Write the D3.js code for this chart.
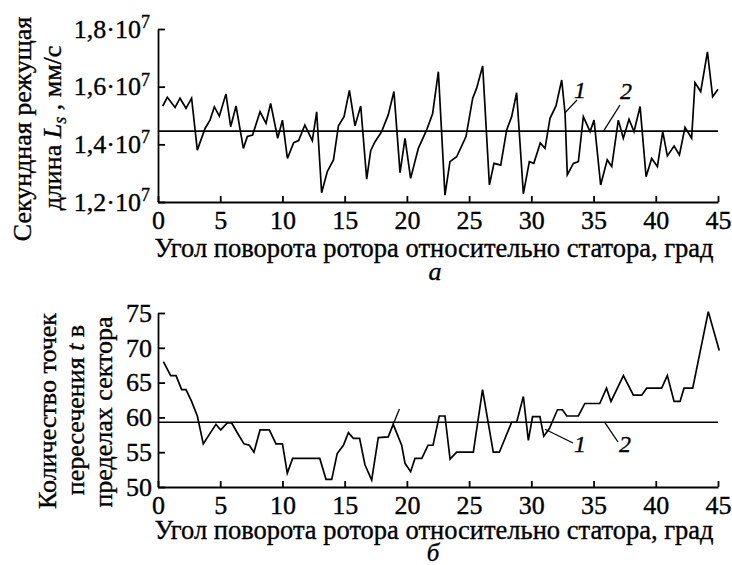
<!DOCTYPE html>
<html>
<head>
<meta charset="utf-8">
<script src="https://cdn.jsdelivr.net/npm/d3@7"></script>
<style>
  body { margin: 0; background: #fff; }
  svg text { font-family: "Liberation Serif", "DejaVu Serif", serif !important; fill: #000; stroke: #000; stroke-width: 0.35px; }
</style>
</head>
<body>
<svg id="chart" width="732" height="565"></svg>
<script>
// (a) seconds cutting length, 10^7 mm/s
const angleA = [0.38, 0.75, 1.37, 1.77, 2.25, 2.7, 3.16, 3.78, 4.18, 4.53, 4.93, 5.46, 5.84, 6.27, 6.86, 7.18, 7.6, 8.2, 8.68, 9.05,
  9.62, 10.0, 10.4, 10.9, 11.3, 11.8, 12.4, 12.75, 13.15, 13.6, 14.1, 14.5, 14.95, 15.38, 15.83, 16.29, 16.77, 17.09, 17.44, 17.97,
  18.5, 18.96, 19.45, 19.85, 20.3, 20.92, 21.59, 22.07, 22.53, 23.06, 23.46, 24.0, 24.75, 25.29, 25.6, 26.09, 26.63, 27.0, 27.54, 28.02,
  28.42, 28.82, 29.36, 29.84, 30.2, 30.72, 31.1, 31.5, 31.98, 32.44, 32.71, 32.89, 33.38, 33.78, 34.18, 34.72, 35.04, 35.57, 36.1, 36.46,
  36.99, 37.39, 37.85, 38.25, 38.74, 39.22, 39.67, 40.13, 40.56, 40.93, 41.47, 41.9, 42.35, 42.88, 43.15, 43.61, 44.15, 44.57, 45.0]
const lengthA = [1.533, 1.563, 1.528, 1.56, 1.525, 1.56, 1.38, 1.455, 1.484, 1.53, 1.498, 1.575, 1.461, 1.533, 1.386, 1.427, 1.432, 1.513, 1.473, 1.542,
  1.421, 1.484, 1.351, 1.406, 1.413, 1.467, 1.413, 1.513, 1.232, 1.305, 1.346, 1.464, 1.496, 1.587, 1.464, 1.533, 1.279, 1.378, 1.409, 1.444,
  1.502, 1.583, 1.302, 1.421, 1.282, 1.386, 1.45, 1.507, 1.652, 1.224, 1.34, 1.357, 1.427, 1.56, 1.594, 1.672, 1.259, 1.334, 1.328, 1.45,
  1.496, 1.579, 1.228, 1.34, 1.334, 1.405, 1.386, 1.49, 1.533, 1.623, 1.508, 1.294, 1.334, 1.34, 1.496, 1.444, 1.484, 1.259, 1.346, 1.323,
  1.484, 1.421, 1.487, 1.444, 1.531, 1.288, 1.351, 1.323, 1.444, 1.36, 1.394, 1.363, 1.459, 1.421, 1.614, 1.583, 1.721, 1.565, 1.591]
const meanA = 1.446

// (б) number of intersection points in sector
const angleB = [0.43, 1.02, 1.45, 1.9, 2.25, 2.7, 3.16, 3.64, 4.18, 4.66, 5.04, 5.57, 5.92, 6.37, 6.91, 7.34, 7.71, 8.2, 8.95, 9.48,
  10.0, 10.39, 10.82, 13.0, 13.5, 13.96, 14.4, 14.9, 15.3, 15.7, 16.2, 16.63, 17.17, 17.7, 18.5, 18.9, 19.58, 19.85, 20.3, 20.65,
  21.2, 21.7, 22.1, 22.6, 23.06, 23.47, 24.0, 25.34, 26.08, 26.94, 27.43, 28.42, 28.82, 29.36, 29.76, 30.1, 30.69, 31.0, 31.45, 32.1,
  32.5, 32.85, 33.78, 34.3, 35.5, 36.04, 36.4, 37.4, 38.2, 38.87, 39.27, 40.47, 40.93, 41.47, 41.95, 42.27, 42.97, 44.22, 45.1]
const countB = [68, 66, 66, 64, 64, 62.3, 60.2, 56.2, 57.7, 59, 58.2, 59.2, 59.2, 57.8, 56.2, 56, 55, 58.2, 58.2, 56.2,
  56.2, 52, 54.1, 54.1, 51.1, 51.1, 54.8, 56, 57.8, 57, 57, 53.2, 51, 57.1, 57.2, 59, 56, 53.4, 52.2, 54.1,
  54.1, 56, 56, 60.2, 60.2, 54, 55, 55, 64, 55, 55, 59.3, 59.3, 63, 56.7, 60.1, 60.1, 57.3, 58.4, 61.1,
  61.1, 60.2, 60.2, 62, 62, 64.2, 62.3, 66, 63.2, 63.2, 64.2, 64.2, 66, 62.3, 62.3, 64.2, 64.2, 75.2, 69.6]
const meanB = 59.3

const ticksX = [0, 5, 10, 15, 20, 25, 30, 35, 40, 45]
const ticksA = [1.2, 1.4, 1.6, 1.8]
const ticksB = [50, 55, 60, 65, 70, 75]

const xTitle = 'Угол поворота ротора относительно статора, град'
const serif = '"Liberation Serif", "DejaVu Serif", serif'

const svg = d3.select('#chart')

const x = d3.scaleLinear().domain([0, 45]).range([158, 718])
const yA = d3.scaleLinear().domain([1.2, 1.8]).range([202, 29])
const yB = d3.scaleLinear().domain([50, 75]).range([487, 313])

function drawPanel(y, yTicks, xs, ys, mean, padY) {
    let g = svg.append('g')

    g.append('g')
        .attr('transform', 'translate(0,' + y.range()[0] + ')')
        .call(d3.axisBottom(x).tickValues(ticksX).tickSizeInner(-6).tickSizeOuter(0).tickPadding(9))
        .attr('font-family', serif)
        .call(a => a.selectAll('text').attr('font-size', 26).style('font-family', serif))
        .call(a => a.selectAll('path, line').attr('stroke', '#000').attr('stroke-width', 1.8))

    let ax = g.append('g')
        .attr('transform', 'translate(' + x(0) + ',0)')
        .call(d3.axisLeft(y).tickValues(yTicks).tickSizeInner(-7).tickSizeOuter(0).tickPadding(padY))
        .attr('font-family', serif)
    ax.selectAll('path, line').attr('stroke', '#000').attr('stroke-width', 1.8)
    ax.selectAll('text').attr('font-size', 26).style('font-family', serif)

    g.append('line')
        .attr('x1', x(0)).attr('x2', x(45))
        .attr('y1', y(mean)).attr('y2', y(mean))
        .attr('stroke', '#000').attr('stroke-width', 1.7)

    let line = d3.line().x(d => x(d[0])).y(d => y(d[1]))
    g.append('path')
        .datum(d3.zip(xs, ys))
        .attr('d', line)
        .attr('fill', 'none')
        .attr('stroke', '#000')
        .attr('stroke-width', 1.7)
    return {g, ax}
}

// panel a
let pa = drawPanel(yA, ticksA, angleA, lengthA, meanA, 8)
pa.ax.selectAll('.tick text').each(function(d) {
    let t = d3.select(this).text('')
    t.append('tspan').text(d3.format('.1f')(d).replace('.', ',') + '·10')
    t.append('tspan').attr('dy', '-0.55em').attr('font-size', 18).text('7')
})

// panel б
drawPanel(yB, ticksB, angleB, countB, meanB, 6)

// axis titles
svg.append('text').attr('x', 434).attr('y', 257).attr('text-anchor', 'middle').attr('font-size', 26.5).text(xTitle)
svg.append('text').attr('x', 435).attr('y', 280).attr('text-anchor', 'middle').attr('font-size', 26).attr('font-style', 'italic').text('a')
svg.append('text').attr('x', 434).attr('y', 539).attr('text-anchor', 'middle').attr('font-size', 26.5).text(xTitle)
svg.append('text').attr('x', 433).attr('y', 561).attr('text-anchor', 'middle').attr('font-size', 25).attr('font-style', 'italic').text('б')

// y titles (rotated)
function yTitle(cx, cy, build) {
    let t = svg.append('text')
        .attr('transform', 'translate(' + cx + ',' + cy + ') rotate(-90)')
        .attr('text-anchor', 'middle')
        .attr('font-size', 26)
    build(t)
}
yTitle(31, 129, t => t.text('Секундная режущая'))
yTitle(61, 128, t => {
    t.append('tspan').text('длина ')
    t.append('tspan').attr('font-style', 'italic').text('L')
    t.append('tspan').attr('font-style', 'italic').attr('font-size', 18).attr('dy', 5).text('s')
    t.append('tspan').attr('dy', -5).text(' , мм/с')
})
yTitle(56, 411, t => t.text('Количество точек'))
yTitle(84, 410, t => {
    t.append('tspan').text('пересечения ')
    t.append('tspan').attr('font-style', 'italic').text('t')
    t.append('tspan').text(' в')
})
yTitle(112, 412, t => t.text('пределах сектора'))

// curve labels 1 and 2 with leaders
function label(x1, y1, x2, y2, tx, ty, s) {
    svg.append('line').attr('x1', x1).attr('y1', y1).attr('x2', x2).attr('y2', y2)
        .attr('stroke', '#000').attr('stroke-width', 1.3)
    svg.append('text').attr('x', tx).attr('y', ty).attr('font-size', 24).attr('font-style', 'italic').text(s)
}
label(x(32.7), yA(1.509), 577, 100, 574, 98, '1')
label(x(35.8), yA(meanA), 620, 105, 620, 99, '2')
label(x(31.1), yB(58.3), 573, 443, 574, 452, '1')
label(x(35.9), yB(meanB), 618, 442, 619, 452, '2')

// short stroke crossing the mean line near 19 deg
svg.append('line')
    .attr('x1', x(18.9)).attr('y1', yB(59))
    .attr('x2', x(19.4)).attr('y2', yB(61.2))
    .attr('stroke', '#000').attr('stroke-width', 1.3)
</script>
</body>
</html>
